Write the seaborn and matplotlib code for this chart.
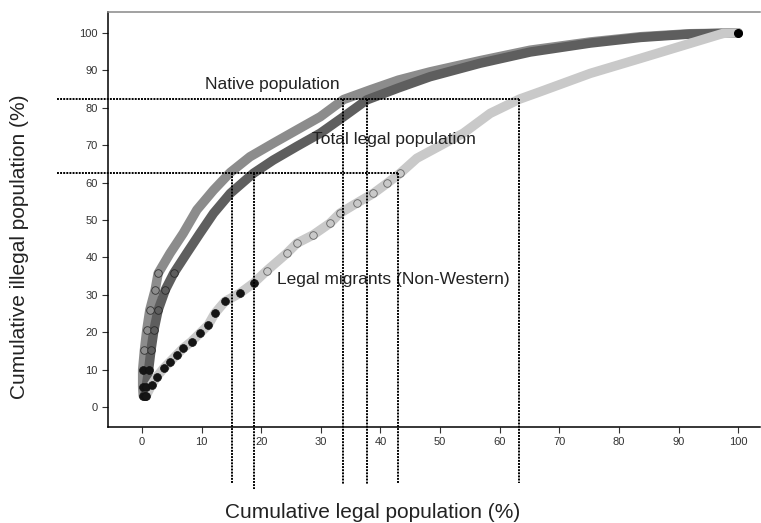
import matplotlib
matplotlib.use('Agg')
import matplotlib.pyplot as plt
import seaborn as sns
import pandas as pd

# curves (cumulative legal %, cumulative illegal %)
native_x = [0.2, 0.1, 0.1, 0.4, 0.8, 1.3, 2.2, 2.7, 4.7, 6.9, 9.2, 12.0, 14.8, 18.1, 22.0,
            26.0, 29.9, 33.8, 38.3, 43.0, 48.3, 56.7, 65.1, 75.2, 83.6, 91.9, 100.0]
native_y = [3.0, 5.4, 9.9, 15.2, 20.6, 25.9, 31.3, 35.7, 41.1, 46.4, 52.7, 58.0, 62.7, 66.9, 70.5,
            74.1, 77.6, 82.2, 84.8, 87.4, 89.6, 92.6, 95.4, 97.6, 99.0, 99.8, 100.0]

total_x = [0.5, 0.7, 1.1, 1.5, 2.0, 2.7, 3.9, 5.3, 7.5, 9.7, 12.0, 14.8, 18.7, 22.0, 26.0,
           29.9, 33.8, 37.7, 43.0, 48.3, 56.7, 65.1, 75.2, 83.6, 91.9, 100.0]
total_y = [3.0, 5.4, 9.9, 15.2, 20.6, 25.9, 31.3, 35.7, 41.1, 46.4, 51.8, 57.1, 62.5, 66.0, 69.7,
           73.2, 77.6, 82.1, 85.3, 88.3, 91.9, 94.9, 97.3, 98.8, 99.7, 100.0]

migr_x = [0.7, 1.6, 2.5, 3.6, 4.7, 5.8, 6.9, 8.3, 9.7, 11.1, 12.2, 13.9, 16.4, 18.7, 20.9,
          24.3, 26.0, 28.7, 31.5, 33.2, 36.0, 38.8, 41.1, 43.3, 46.1, 53.9, 58.4, 63.3, 66.8,
          75.2, 83.6, 91.9, 97.5, 100.0]
migr_y = [3.0, 5.9, 8.1, 10.3, 12.1, 13.9, 15.7, 17.5, 19.7, 21.9, 25.0, 28.2, 30.4, 33.1, 36.4,
          41.1, 43.8, 46.0, 49.1, 51.8, 54.5, 57.1, 59.8, 62.5, 66.5, 73.2, 78.5, 82.3, 84.3,
          89.2, 93.2, 97.2, 99.9, 100.0]

# reference levels and where each curve crosses them
ref_levels = [62.5, 82.3]
cross_native = [15.1, 33.7]
cross_total = [18.8, 37.8]
cross_migr = [43.0, 63.3]

groups = ['Native population', 'Total legal population', 'Legal migrants (Non-Western)']
df = pd.concat([
    pd.DataFrame({'legal': native_x, 'illegal': native_y, 'group': groups[0]}),
    pd.DataFrame({'legal': total_x, 'illegal': total_y, 'group': groups[1]}),
    pd.DataFrame({'legal': migr_x, 'illegal': migr_y, 'group': groups[2]}),
])

sns.set_style('ticks')
plt.rcParams['font.family'] = ['Liberation Sans', 'DejaVu Sans']

fig = plt.figure(figsize=(7.61, 5.23), dpi=100)
ax = fig.add_axes([0.142, 0.184, 0.857, 0.793])

colors = {groups[0]: '#8c8c8c', groups[1]: '#5e5e5e', groups[2]: '#c9c9c9'}
ring_edge = {groups[0]: '#333333', groups[1]: '#2a2a2a', groups[2]: '#666666'}
# the sparse start of each curve shows as black dots, then ringed dots
n_black = {groups[0]: 3, groups[1]: 3, groups[2]: 14}
n_ring = {groups[0]: 8, groups[1]: 8, groups[2]: 24}

for name in groups:
    grp = df[df['group'] == name]
    sns.lineplot(data=grp, x='legal', y='illegal', ax=ax, sort=False, estimator=None,
                 color=colors[name], linewidth=6.8, solid_capstyle='round')
    ring = grp.iloc[n_black[name]:n_ring[name]]
    sns.scatterplot(data=ring, x='legal', y='illegal', ax=ax, color=colors[name],
                    s=30, edgecolor=ring_edge[name], linewidth=0.6, zorder=4)
    head = grp.iloc[:n_black[name]]
    sns.scatterplot(data=head, x='legal', y='illegal', ax=ax, color='#151515',
                    s=32, edgecolor='#111111', linewidth=0.5, zorder=4)

ax.plot([100], [100], 'o', color='black', markersize=5.5, zorder=5)

# dotted reference lines, running outside the axes as in the original
dot = dict(color='black', linestyle=(0, (1, 0.6)), linewidth=1.4, clip_on=False, zorder=6)
for i, lvl in enumerate(ref_levels):
    ax.plot([-14.3, cross_migr[i]], [lvl, lvl], **dot)
    for xc, ybot in [(cross_native[i], -20.6), (cross_total[i], -22.0 if i == 0 else -20.6),
                     (cross_migr[i], -20.4)]:
        ax.plot([xc, xc], [lvl, ybot], **dot)

ax.text(10.6, 86.1, 'Native population', fontsize=12.5, color='#222222', va='center')
ax.text(28.5, 71.4, 'Total legal population', fontsize=12.5, color='#222222', va='center')
ax.text(22.6, 34.0, 'Legal migrants (Non-Western)', fontsize=12.5, color='#222222', va='center')

ax.set_xlim(-5.7, 103.7)
ax.set_ylim(-5.3, 105.6)
ax.set_xticks(range(0, 101, 10))
ax.set_yticks(range(0, 101, 10))
ax.tick_params(labelsize=8, colors='#333333', length=4, width=0.8)
ax.set_xlabel('')
ax.set_ylabel('')

ax.spines['right'].set_visible(False)
ax.spines['top'].set_color('#888888')
ax.spines['left'].set_color('black')
ax.spines['bottom'].set_color('black')
for s in ax.spines.values():
    s.set_linewidth(1.1)

fig.text(373 / 761, 1 - 512 / 523, 'Cumulative legal population (%)', fontsize=15,
         ha='center', va='center', color='#222222')
fig.text(20 / 761, 1 - 247 / 523, 'Cumulative illegal population (%)', fontsize=15,
         ha='center', va='center', rotation=90, color='#222222')

fig.savefig('out.png', dpi=100)
